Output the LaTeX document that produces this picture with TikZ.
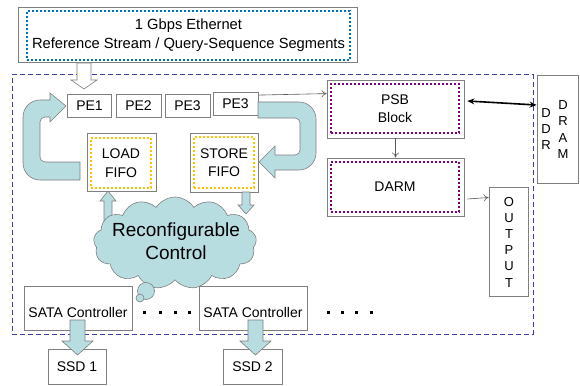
\documentclass[tikz,border=0pt]{standalone}
\usepackage{fontspec}
\setmainfont{Liberation Sans}
\usetikzlibrary{shapes.symbols,arrows.meta}
\definecolor{aqua}{HTML}{B7DDE1}
\definecolor{bordergray}{HTML}{7F7F7F}
\definecolor{dashblue}{HTML}{3C3CB4}
\definecolor{dotblue}{HTML}{0070C0}
\definecolor{dotpurple}{HTML}{800080}
\definecolor{dotorange}{HTML}{FFC000}
\begin{document}
\begin{tikzpicture}[x=1pt,y=-1pt,
  graybox/.style={draw=bordergray, line width=0.8pt, fill=white, inner sep=0pt},
  dotbox/.style={line width=2pt, dash pattern=on 2pt off 2pt, inner sep=0pt, align=center},
  txt/.style={font=\fontsize{14}{18.5}\selectfont, align=center, inner sep=0pt},
  vtxt/.style={font=\fontsize{13}{16.2}\selectfont, align=center, inner sep=0pt},
  bigarrow/.style={fill=aqua, draw=bordergray, line width=0.6pt},
  hollowarrow/.style={fill=white, draw=bordergray, line width=0.6pt},
  thinarrow/.style={draw=bordergray!70!black, line width=0.6pt, -{To[length=5pt,width=7pt]}},
  bigtip/.style={line width=1.6pt, {Stealth[length=7pt,width=6pt]}-{Stealth[length=7pt,width=6pt]}}
]
\useasboundingbox (0,0) rectangle (580,385);

% FPGA dashed frame
\node[draw=dashblue, line width=1pt, dash pattern=on 5pt off 3pt, minimum width=521pt, minimum height=259pt, inner sep=0pt] (fpga) at (272.5,204.5) {};

% Top Ethernet box
\node[graybox, minimum width=339pt, minimum height=55pt] (topo) at (187.5,34.5) {};
\node[dotbox, draw=dotblue, minimum width=323pt, minimum height=49pt, font=\fontsize{14.7}{19}\selectfont] (topi) at (188.5,35.5) {1 Gbps Ethernet\\Reference Stream / Query-Sequence Segments};

% hollow arrow down to PE1
\draw[hollowarrow] (77,63) -- (91,63) -- (91,80) -- (97,80) -- (84,89) -- (71,80) -- (77,80) -- cycle;

% PE boxes
\node[graybox, txt, minimum width=44pt, minimum height=23pt] (pe1) at (89.5,105.5) {PE1};
\node[graybox, txt, minimum width=45pt, minimum height=23pt] (pe2) at (138.5,105.5) {PE2};
\node[graybox, txt, minimum width=45pt, minimum height=23pt] (pe3) at (187.5,105.5) {PE3};
\node[graybox, txt, minimum width=45pt, minimum height=23pt] (pe4) at (235.5,104) {PE3};

% FIFO boxes
\node[graybox, minimum width=69pt, minimum height=58pt] (loado) at (121.5,162) {};
\node[dotbox, draw=dotorange, txt, minimum width=60pt, minimum height=50pt] (loadi) at (121,163) {LOAD\\FIFO};
\node[graybox, minimum width=68pt, minimum height=59pt] (storeo) at (224,162.5) {};
\node[dotbox, draw=dotorange, txt, minimum width=60pt, minimum height=51pt] (storei) at (224,162.5) {STORE\\FIFO};

% Left U-turn arrow (LOAD FIFO -> PE1)
\draw[bigarrow] (80,180) -- (40,180) .. controls (30.6,180) and (23,172.4) .. (23,163)
  -- (23,117) .. controls (23,107.6) and (30.6,100) .. (40,100) -- (50,100) -- (50,93)
  -- (66,106) -- (50,122) -- (50,117) -- (45,117) .. controls (42.2,117) and (40,119.2) .. (40,122)
  -- (40,157) .. controls (40,159.8) and (42.2,162) .. (45,162) -- (80,162) -- cycle;

% Right U-turn arrow (PE3 -> STORE FIFO)
\draw[bigarrow] (258,102) -- (299,102) .. controls (308.4,102) and (316,109.6) .. (316,119)
  -- (316,153) .. controls (316,162.4) and (308.4,170) .. (299,170) -- (275,170) -- (275,178)
  -- (259,162) -- (275,146) -- (275,155) -- (295,155) .. controls (297.8,155) and (300,152.8) .. (300,150)
  -- (300,123) .. controls (300,120.2) and (297.8,118) .. (295,118) -- (258,118) -- cycle;

% up arrow cloud -> LOAD FIFO (behind cloud)
\draw[bigarrow] (104,226) -- (104,201) -- (100,201) -- (108,191) -- (116,201) -- (112,201) -- (112,226);

% Cloud
\node[cloud, cloud puffs=13, cloud puff arc=115, aspect=1.75, draw=bordergray, line width=0.6pt, fill=aqua, minimum width=163pt, minimum height=92pt, inner sep=0pt] (cloud) at (175,243) {};
\node[font=\fontsize{19}{23}\selectfont, align=center, inner sep=0pt] (cloudt) at (176,241.5) {Reconfigurable\\Control};
\draw[bigarrow] (146,291) circle (8.5pt);
\draw[bigarrow] (140,298) circle (4pt);

% down arrow STORE FIFO -> cloud
\draw[bigarrow] (242,192) -- (250,192) -- (250,205) -- (254,205) -- (246,214) -- (238,205) -- (242,205) -- cycle;

% PSB and DARM
\node[graybox, minimum width=137pt, minimum height=58pt] (psbo) at (395.5,109) {};
\node[dotbox, draw=dotpurple, txt, minimum width=128pt, minimum height=49pt] (psbi) at (395,108.5) {PSB\\Block};
\node[graybox, minimum width=137pt, minimum height=58pt] (darmo) at (395.5,187) {};
\node[dotbox, draw=dotpurple, txt, minimum width=128pt, minimum height=50pt] (darmi) at (395,187) {DARM};

% DDR DRAM
\node[graybox, minimum width=41pt, minimum height=108pt] (ddr) at (557.5,129) {};
\node[vtxt] (ddra) at (546,129) {D\\D\\R};
\node[vtxt] (ddrb) at (563,129.5) {D\\R\\A\\M};

% OUTPUT
\node[graybox, minimum width=39pt, minimum height=109pt] (output) at (508.5,241.5) {};
\node[vtxt] (outt) at (509,242) {O\\U\\T\\P\\U\\T};

% thin connectors
\draw[thinarrow] ([yshift=-3pt]pe4.north east) -- ([yshift=-14pt]psbo.north west);
\draw[thinarrow] (psbo.south) -- (darmo.north);
\draw[thinarrow] ([xshift=3pt,yshift=-12pt]darmo.east) -- ([yshift=44pt]output.west);
\draw[bigtip] ([xshift=3pt,yshift=8pt]psbo.east) -- ([yshift=24pt]ddr.west);

% SATA controllers
\node[graybox, minimum width=108pt, minimum height=44pt] (sata1) at (78,308) {};
\node[txt] (sata1t) at (78,312) {SATA Controller};
\node[graybox, minimum width=108pt, minimum height=44pt] (sata2) at (253,308) {};
\node[txt] (sata2t) at (253,312) {SATA Controller};
\foreach \x in {144,160,175,189,328,342,356,371}
  \fill (\x-1.5,310.5) rectangle ++(3,3);

% SSDs
\node[graybox, txt, minimum width=58pt, minimum height=35pt] (ssd1) at (77,366.5) {SSD 1};
\node[graybox, txt, minimum width=59pt, minimum height=35pt] (ssd2) at (252.5,366.5) {SSD 2};

% SATA -> SSD arrows
\draw[bigarrow] (70,320) -- (85,320) -- (85,341) -- (93,341) -- (77.5,355) -- (62,341) -- (70,341) -- cycle;
\draw[bigarrow] (248,320) -- (263,320) -- (263,341) -- (271,341) -- (255.5,355) -- (240,341) -- (248,341) -- cycle;
\end{tikzpicture}
\end{document}
